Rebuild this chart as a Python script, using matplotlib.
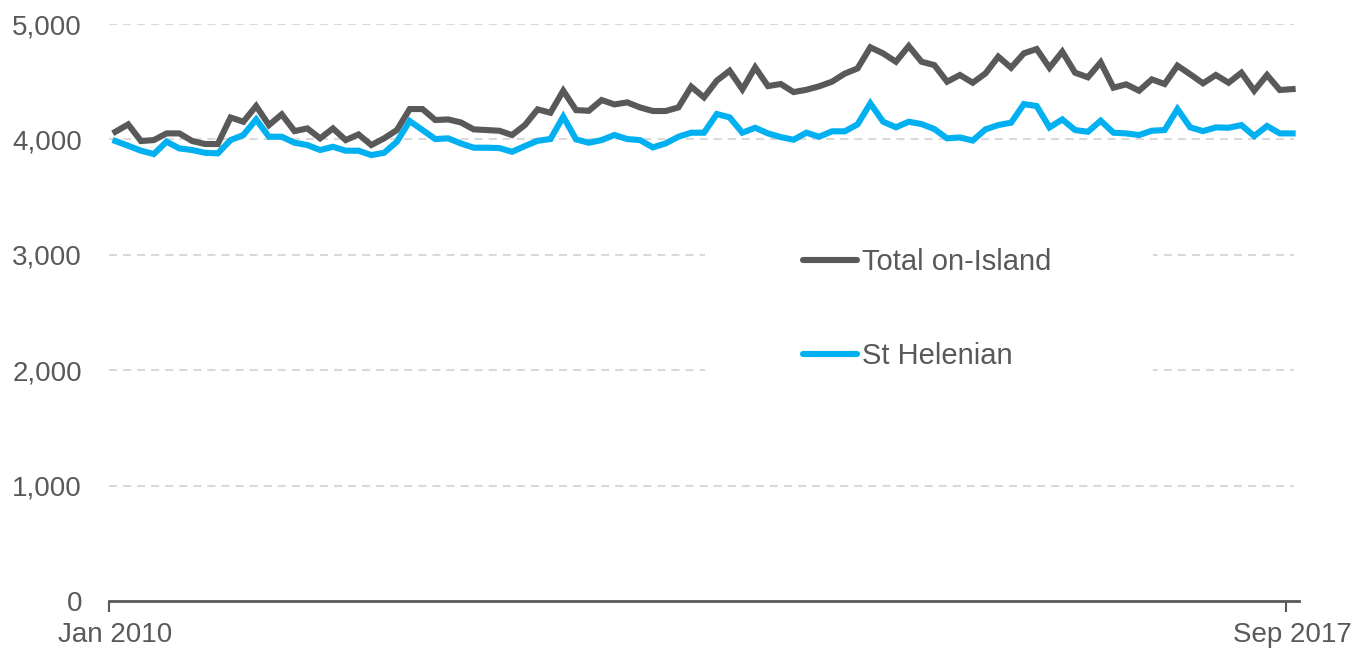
"""
plot.py
-------
St Helena monthly population on-Island, Jan 2010 - Sep 2017.
Two series: total on-Island and St Helenians.
"""

import numpy as np
import matplotlib
matplotlib.use("Agg")
import matplotlib.pyplot as plt
from matplotlib.patches import Rectangle

# ── Data (monthly, Jan 2010 .. Sep 2017) ────────────────────────────────────
TOTAL_ON_ISLAND = [
    4066, 4130, 3986, 3994, 4052, 4052, 3986, 3960, 3960, 4190,
    4153, 4289, 4124, 4217, 4072, 4095, 4009, 4095, 3994, 4043,
    3951, 4009, 4081, 4263, 4263, 4168, 4173, 4147, 4087, 4081,
    4075, 4038, 4124, 4260, 4231, 4422, 4254, 4248, 4341, 4303,
    4321, 4277, 4246, 4246, 4277, 4457, 4364, 4509, 4595, 4434,
    4624, 4462, 4480, 4410, 4430, 4460, 4500, 4570, 4615, 4798,
    4745, 4673, 4809, 4673, 4644, 4500, 4558, 4491, 4572, 4717,
    4621, 4746, 4783, 4621, 4760, 4578, 4538, 4668, 4448, 4477,
    4422, 4520, 4480, 4639, 4564, 4486, 4558, 4491, 4578, 4422,
    4558, 4428, 4436,
]
ST_HELENIAN = [
    3986, 3945, 3902, 3873, 3980, 3922, 3908, 3884, 3879, 3994,
    4038, 4173, 4023, 4023, 3971, 3951, 3908, 3936, 3902, 3902,
    3864, 3884, 3980, 4159, 4081, 4003, 4009, 3965, 3928, 3928,
    3925, 3893, 3942, 3988, 4003, 4197, 4000, 3971, 3994, 4038,
    4003, 3994, 3931, 3965, 4023, 4058, 4058, 4220, 4191, 4058,
    4101, 4052, 4020, 3997, 4058, 4023, 4070, 4070, 4130, 4312,
    4153, 4105, 4153, 4133, 4090, 4009, 4017, 3990, 4087, 4124,
    4145, 4306, 4289, 4104, 4173, 4081, 4066, 4162, 4058, 4052,
    4038, 4075, 4081, 4263, 4104, 4072, 4104, 4101, 4124, 4029,
    4116, 4052, 4052,
]
SERIES_LABELS = ["Total on-Island", "St Helenian"]
X_LABELS = ["Jan 2010", "Sep 2017"]
Y_TICKS = [0, 1000, 2000, 3000, 4000, 5000]

GREY = "#595959"
BLUE = "#00B0F0"
GRID = "#D9D9D9"

plt.rcParams["font.family"] = ["Liberation Sans", "DejaVu Sans"]

W, H = 1371, 651
fig = plt.figure(figsize=(W / 100, H / 100), dpi=100)
ax = fig.add_axes([109 / W, 1 - 601 / H, 1190 / W, 577 / H])

x = np.arange(len(TOTAL_ON_ISLAND))
ax.plot(x, TOTAL_ON_ISLAND, color=GREY, lw=4.4, solid_joinstyle="miter",
        label=SERIES_LABELS[0], zorder=4)
ax.plot(x, ST_HELENIAN, color=BLUE, lw=4.4, solid_joinstyle="miter",
        label=SERIES_LABELS[1], zorder=4)

ax.set_xlim(-0.5, len(x) - 0.5)
ax.set_ylim(0, 5000)

# y axis: labels only, dashed grid
ax.set_yticks(Y_TICKS)
ax.set_yticklabels([f"{v:,}" for v in Y_TICKS])
ax.tick_params(axis="y", length=0, pad=19.5, labelsize=20, labelcolor=GREY)
for v in Y_TICKS[1:]:
    ax.axhline(v, xmax=0.9958, color=GRID, lw=1.5, ls=(0, (3.85, 2.9)),
               zorder=1)

# x axis: labels under first and last month, tick marks on category edges
ax.set_xticks([0, len(x) - 1])
ax.set_xticklabels(X_LABELS)
ax.tick_params(axis="x", which="major", length=0, pad=15, labelsize=20,
               labelcolor=GREY)
ax.set_xticks([-0.5, len(x) - 1.5], minor=True)
ax.tick_params(axis="x", which="minor", length=8, width=1.5, color=GREY,
               direction="out")

for side in ["top", "right", "left"]:
    ax.spines[side].set_visible(False)
ax.spines["bottom"].set_color(GREY)
ax.spines["bottom"].set_linewidth(2)

# white legend area hiding the grid behind it
ax.add_patch(Rectangle((596 / 1190, 181 / 577), 448 / 1190, 220 / 577,
                       transform=ax.transAxes, facecolor="white",
                       edgecolor="none", zorder=2))

leg = ax.legend(loc="center left", bbox_to_anchor=(803 / W, 1 - 309 / H),
                bbox_transform=fig.transFigure, frameon=False, fontsize=21,
                handlelength=1.85, handletextpad=0.17, labelspacing=2.25,
                borderpad=0, borderaxespad=0)
for text in leg.get_texts():
    text.set_color(GREY)
for line in leg.get_lines():
    line.set_solid_capstyle("round")

fig.savefig("out.png", dpi=100)
